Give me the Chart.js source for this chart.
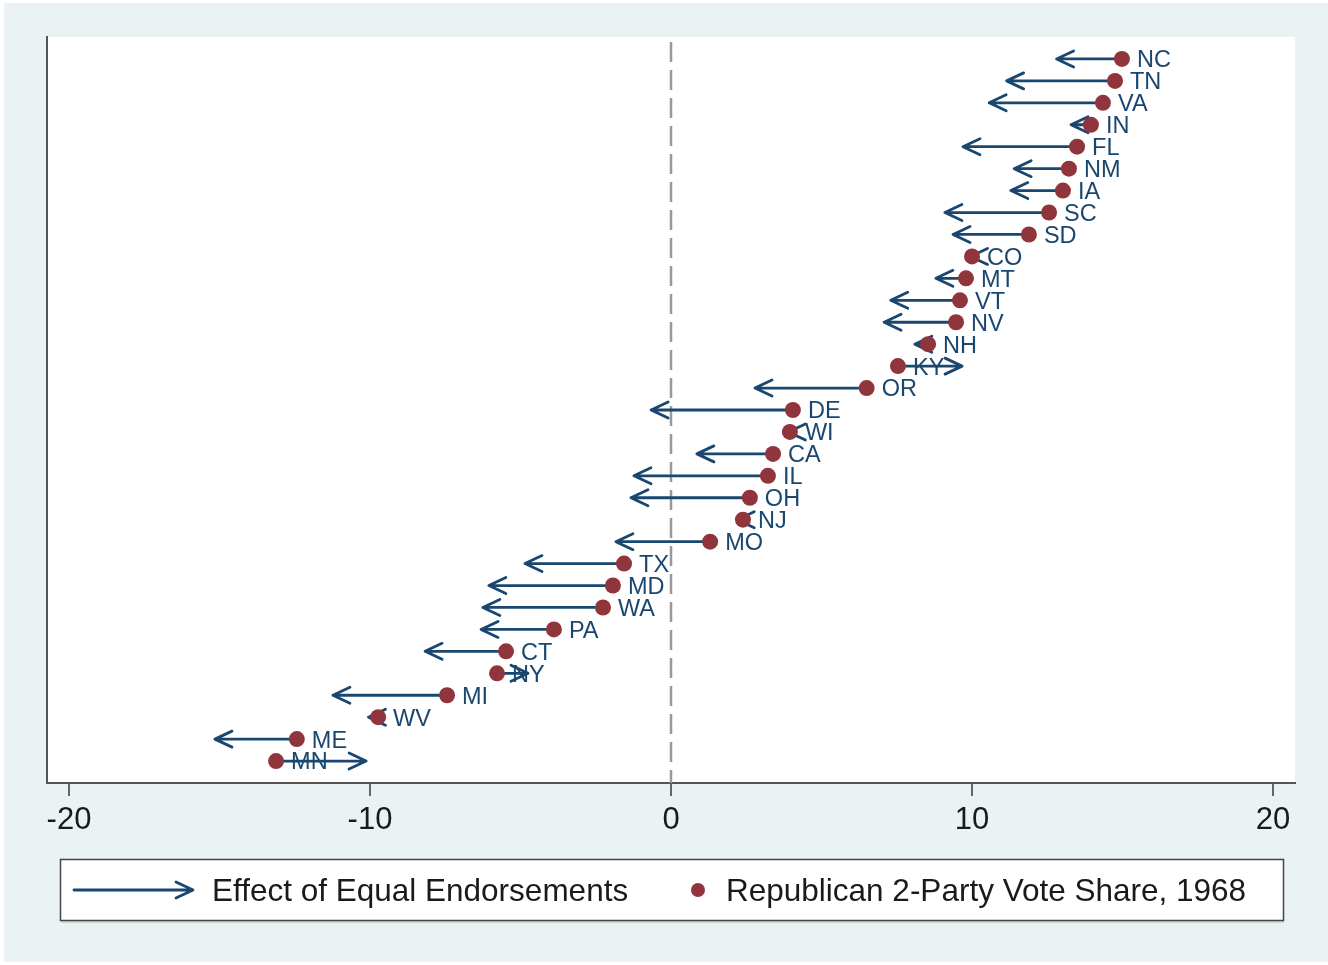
<!DOCTYPE html>
<html>
<head>
<meta charset="utf-8">
<style>
  html, body { margin: 0; padding: 0; background: #ffffff; }
  #wrap { width: 1328px; height: 965px; }
</style>
<script src="https://cdn.jsdelivr.net/npm/chart.js@4/dist/chart.umd.min.js"></script>
</head>
<body>
<div id="wrap"><canvas id="chart" width="1328" height="965"></canvas></div>
<script>
// States, top to bottom
const states = ['NC','TN','VA','IN','FL','NM','IA','SC','SD','CO','MT','VT','NV','NH','KY','OR',
  'DE','WI','CA','IL','OH','NJ','MO','TX','MD','WA','PA','CT','NY','MI','WV','ME','MN'];

// Republican 2-party vote share, 1968 (dots)
const voteShare = [14.98,14.75,14.35,13.95,13.49,13.22,13.02,12.56,11.89,10.0,9.8,9.6,9.47,8.54,7.54,6.5,
  4.05,3.95,3.39,3.22,2.62,2.39,1.3,-1.56,-1.93,-2.26,-3.89,-5.48,-5.78,-7.44,-9.73,-12.43,-13.12];

// where the arrow ends (after equal endorsements)
const withEqualEndorse = [12.81,11.15,10.57,13.29,9.7,11.4,11.29,9.1,9.37,9.95,8.8,7.3,7.08,8.1,9.67,2.79,
  -0.66,3.9,0.86,-1.23,-1.33,2.2,-1.83,-4.85,-6.05,-6.25,-6.31,-8.17,-4.75,-11.23,-10.05,-15.15,-10.13];

const xTicks = [-20, -10, 0, 10, 20];

const navy = '#1a476f';
const maroon = '#90353b';
const bgColor = '#eaf2f3';

// row position: first state sits at the top
const rowOf = i => states.length - i;

const drawArrow = (ctx, x1, y, x2, width) => {
    const dir = x2 >= x1 ? 1 : -1;
    ctx.save();
    ctx.strokeStyle = navy;
    ctx.lineWidth = width;
    ctx.lineCap = 'round';
    ctx.lineJoin = 'round';
    ctx.beginPath();
    ctx.moveTo(x1, y);
    ctx.lineTo(x2, y);
    ctx.moveTo(x2 - dir * 17, y - 8);
    ctx.lineTo(x2, y);
    ctx.lineTo(x2 - dir * 17, y + 8);
    ctx.stroke();
    ctx.restore();
};

const stataPlugin = {
    id: 'stata',
    beforeDraw(chart) {
        const ctx = chart.ctx;
        const a = chart.chartArea;
        ctx.save();
        ctx.fillStyle = bgColor;
        ctx.fillRect(4, 3, chart.width - 4, chart.height - 6);
        ctx.fillStyle = '#ffffff';
        ctx.fillRect(a.left, a.top, a.right - a.left, a.bottom - a.top);
        ctx.restore();
    },
    beforeDatasetsDraw(chart) {
        const ctx = chart.ctx;
        const a = chart.chartArea;
        const xs = chart.scales.x;
        const ys = chart.scales.y;
        // dashed reference line at zero
        ctx.save();
        ctx.strokeStyle = '#9a9a9a';
        ctx.lineWidth = 2.5;
        ctx.setLineDash([20, 8]);
        ctx.beginPath();
        ctx.moveTo(xs.getPixelForValue(0), a.top + 5);
        ctx.lineTo(xs.getPixelForValue(0), a.bottom);
        ctx.stroke();
        ctx.restore();
        // arrows
        states.forEach((s, i) => {
            const y = ys.getPixelForValue(rowOf(i));
            drawArrow(ctx, xs.getPixelForValue(voteShare[i]), y, xs.getPixelForValue(withEqualEndorse[i]), 2.8);
        });
    },
    afterDatasetsDraw(chart) {
        const ctx = chart.ctx;
        const xs = chart.scales.x;
        const ys = chart.scales.y;
        ctx.save();
        ctx.fillStyle = navy;
        ctx.font = '23.5px "Liberation Sans", Arial, sans-serif';
        ctx.textBaseline = 'alphabetic';
        states.forEach((s, i) => {
            const x = xs.getPixelForValue(voteShare[i]);
            const y = ys.getPixelForValue(rowOf(i));
            ctx.fillText(s, x + 15, y + 8.4);
        });
        ctx.restore();
    },
    afterDraw(chart) {
        const ctx = chart.ctx;
        // legend box
        ctx.save();
        ctx.fillStyle = '#ffffff';
        ctx.fillRect(60, 859, 1223, 61);
        ctx.strokeStyle = '#c8cfd1';
        ctx.lineWidth = 1.5;
        ctx.beginPath();
        ctx.moveTo(61, 922);
        ctx.lineTo(1284, 922);
        ctx.stroke();
        ctx.strokeStyle = '#444444';
        ctx.lineWidth = 1.5;
        ctx.strokeRect(60.5, 859.5, 1223, 61);
        drawArrow(ctx, 74, 890, 193, 2.8);
        ctx.fillStyle = maroon;
        ctx.beginPath();
        ctx.arc(698, 890, 7, 0, Math.PI * 2);
        ctx.fill();
        ctx.fillStyle = '#1a1a1a';
        ctx.font = '31.5px "Liberation Sans", Arial, sans-serif';
        ctx.textBaseline = 'alphabetic';
        ctx.fillText('Effect of Equal Endorsements', 212, 901);
        ctx.fillText('Republican 2-Party Vote Share, 1968', 726, 901);
        ctx.restore();
    }
};

const chart = new Chart(document.getElementById('chart'), {
    type: 'scatter',
    data: {
        datasets: [{
            label: 'Republican 2-Party Vote Share, 1968',
            data: states.map((s, i) => ({ x: voteShare[i], y: rowOf(i) })),
            backgroundColor: maroon,
            borderWidth: 0,
            pointRadius: 8,
            pointHoverRadius: 8
        }]
    },
    options: {
        responsive: false,
        animation: false,
        events: [],
        layout: { padding: { left: 47, right: 33, top: 37, bottom: 122 } },
        plugins: {
            legend: { display: false },
            tooltip: { enabled: false }
        },
        scales: {
            x: {
                type: 'linear',
                min: -20.73,
                max: 20.73,
                afterBuildTicks: scale => { scale.ticks = xTicks.map(v => ({ value: v })); },
                afterFit: scale => { scale.height = 60; },
                grid: { display: true, drawOnChartArea: false, drawTicks: true, tickLength: 13, color: '#666666', lineWidth: 2 },
                border: { display: true, color: '#555555', width: 2 },
                ticks: {
                    color: '#1a1a1a',
                    padding: 6,
                    maxRotation: 0,
                    font: { family: '"Liberation Sans", Arial, sans-serif', size: 31 },
                    callback: v => String(v)
                }
            },
            y: {
                type: 'linear',
                min: 0,
                max: 34,
                afterFit: scale => { scale.width = 0; },
                grid: { display: false },
                border: { display: true, color: '#555555', width: 2 },
                ticks: { display: false }
            }
        }
    },
    plugins: [stataPlugin]
});
</script>
</body>
</html>
